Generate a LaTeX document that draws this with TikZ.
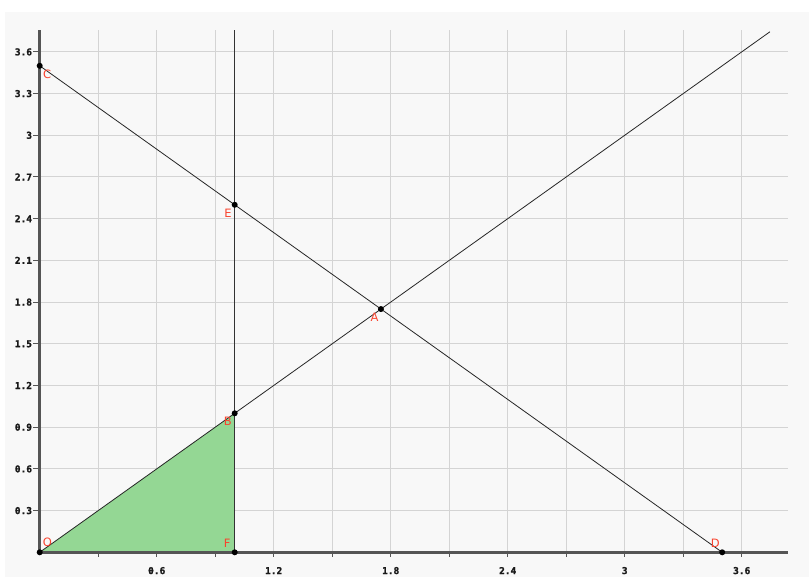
\documentclass[tikz,border=0pt]{standalone}
\usepackage{fontspec}
\setsansfont{DejaVu Sans}
\newfontfamily\axisfont[BoldFeatures={FakeBold=1.5}]{DejaVu Sans Mono}
\definecolor{panelbg}{HTML}{F8F8F8}
\definecolor{gridc}{HTML}{D4D4D4}
\definecolor{axisc}{HTML}{555555}
\definecolor{fillg}{HTML}{94D794}
\definecolor{lblred}{HTML}{F8432E}
\tikzset{
  gridline/.style={draw=gridc, line width=1bp},
  axisline/.style={draw=axisc, line width=2.5bp},
  tickline/.style={draw=axisc, line width=1bp},
  thinline/.style={draw=black!85, line width=0.8bp},
  vline/.style={draw=black!80, line width=1.4bp},
  ptlbl/.style={text=lblred, font=\sffamily\fontsize{11.5bp}{11.5bp}\selectfont, inner sep=0pt},
  axlbl/.style={text=black!90, font=\axisfont\bfseries\fontsize{9.5bp}{9.5bp}\selectfont, inner sep=0pt},
  dot/.style={fill=black}
}
\begin{document}
\begin{tikzpicture}
\useasboundingbox (0,0) rectangle (809bp,577bp);
\fill[panelbg] (5bp,0) rectangle (809bp,565bp);
\begin{scope}[shift={(39.7bp,24.7bp)}, x=195bp, y=139bp]
  % grid
  \foreach \k in {1,...,12} {
    \draw[gridline] ({0.3*\k},0) -- ({0.3*\k},3.755);
    \draw[gridline] (0,{0.3*\k}) -- (3.837,{0.3*\k});
  }
  % points
  \coordinate (O) at (0,0);
  \coordinate (B) at (1,1);
  \coordinate (F) at (1,0);
  \coordinate (E) at (1,2.5);
  \coordinate (A) at (1.75,1.75);
  \coordinate (C) at (0,3.5);
  \coordinate (D) at (3.5,0);
  \coordinate (Ttop) at (3.745,3.745);
  \coordinate (Ftop) at (1,3.755);
  \coordinate (Ytop) at (0,3.755);
  \coordinate (Xend) at (3.837,0);
  % triangle fill
  \fill[fillg] (O) -- (B) -- (F) -- cycle;
  % ticks
  \foreach \k in {1,...,12} {
    \draw[tickline] ({0.3*\k},0) -- ++(0,-5bp);
    \draw[tickline] (0,{0.3*\k}) -- ++(-7bp,0);
  }
  % axes
  \draw[axisline] (O) -- (Xend);
  \draw[axisline] (O) -- (Ytop);
  % axis labels
  \foreach \v/\t in {0.6/0.6,1.2/1.2,1.8/1.8,2.4/2.4,3/3,3.6/3.6} {
    \node[axlbl] (xl\t) at ([yshift=-18.3bp]\v,0) {\t};
  }
  \foreach \v/\t in {0.3/0.3,0.6/0.6,0.9/0.9,1.2/1.2,1.5/1.5,1.8/1.8,2.1/2.1,2.4/2.4,2.7/2.7,3/3,3.3/3.3,3.6/3.6} {
    \node[axlbl, anchor=east] (yl\t) at ([xshift=-7.5bp]0,\v) {\t};
  }
  % lines
  \draw[thinline] (C) -- (D);
  \draw[thinline] (O) -- (Ttop);
  \draw[vline] (F) -- (Ftop);
  % dots
  \foreach \p in {O,B,F,E,A,C,D} { \fill[dot] (\p) circle (3bp); }
  % point labels
  \node[ptlbl] (lO) at ([shift={(7.8bp,9.5bp)}]O) {O};
  \node[ptlbl] (lF) at ([shift={(-7.5bp,9.3bp)}]F) {F};
  \node[ptlbl] (lB) at ([shift={(-7bp,-8bp)}]B) {B};
  \node[ptlbl] (lC) at ([shift={(7.5bp,-9bp)}]C) {C};
  \node[ptlbl] (lE) at ([shift={(-6.7bp,-8.4bp)}]E) {E};
  \node[ptlbl] (lA) at ([shift={(-6.5bp,-8.5bp)}]A) {A};
  \node[ptlbl] (lD) at ([shift={(-7bp,9.3bp)}]D) {D};
\end{scope}
\end{tikzpicture}
\end{document}
